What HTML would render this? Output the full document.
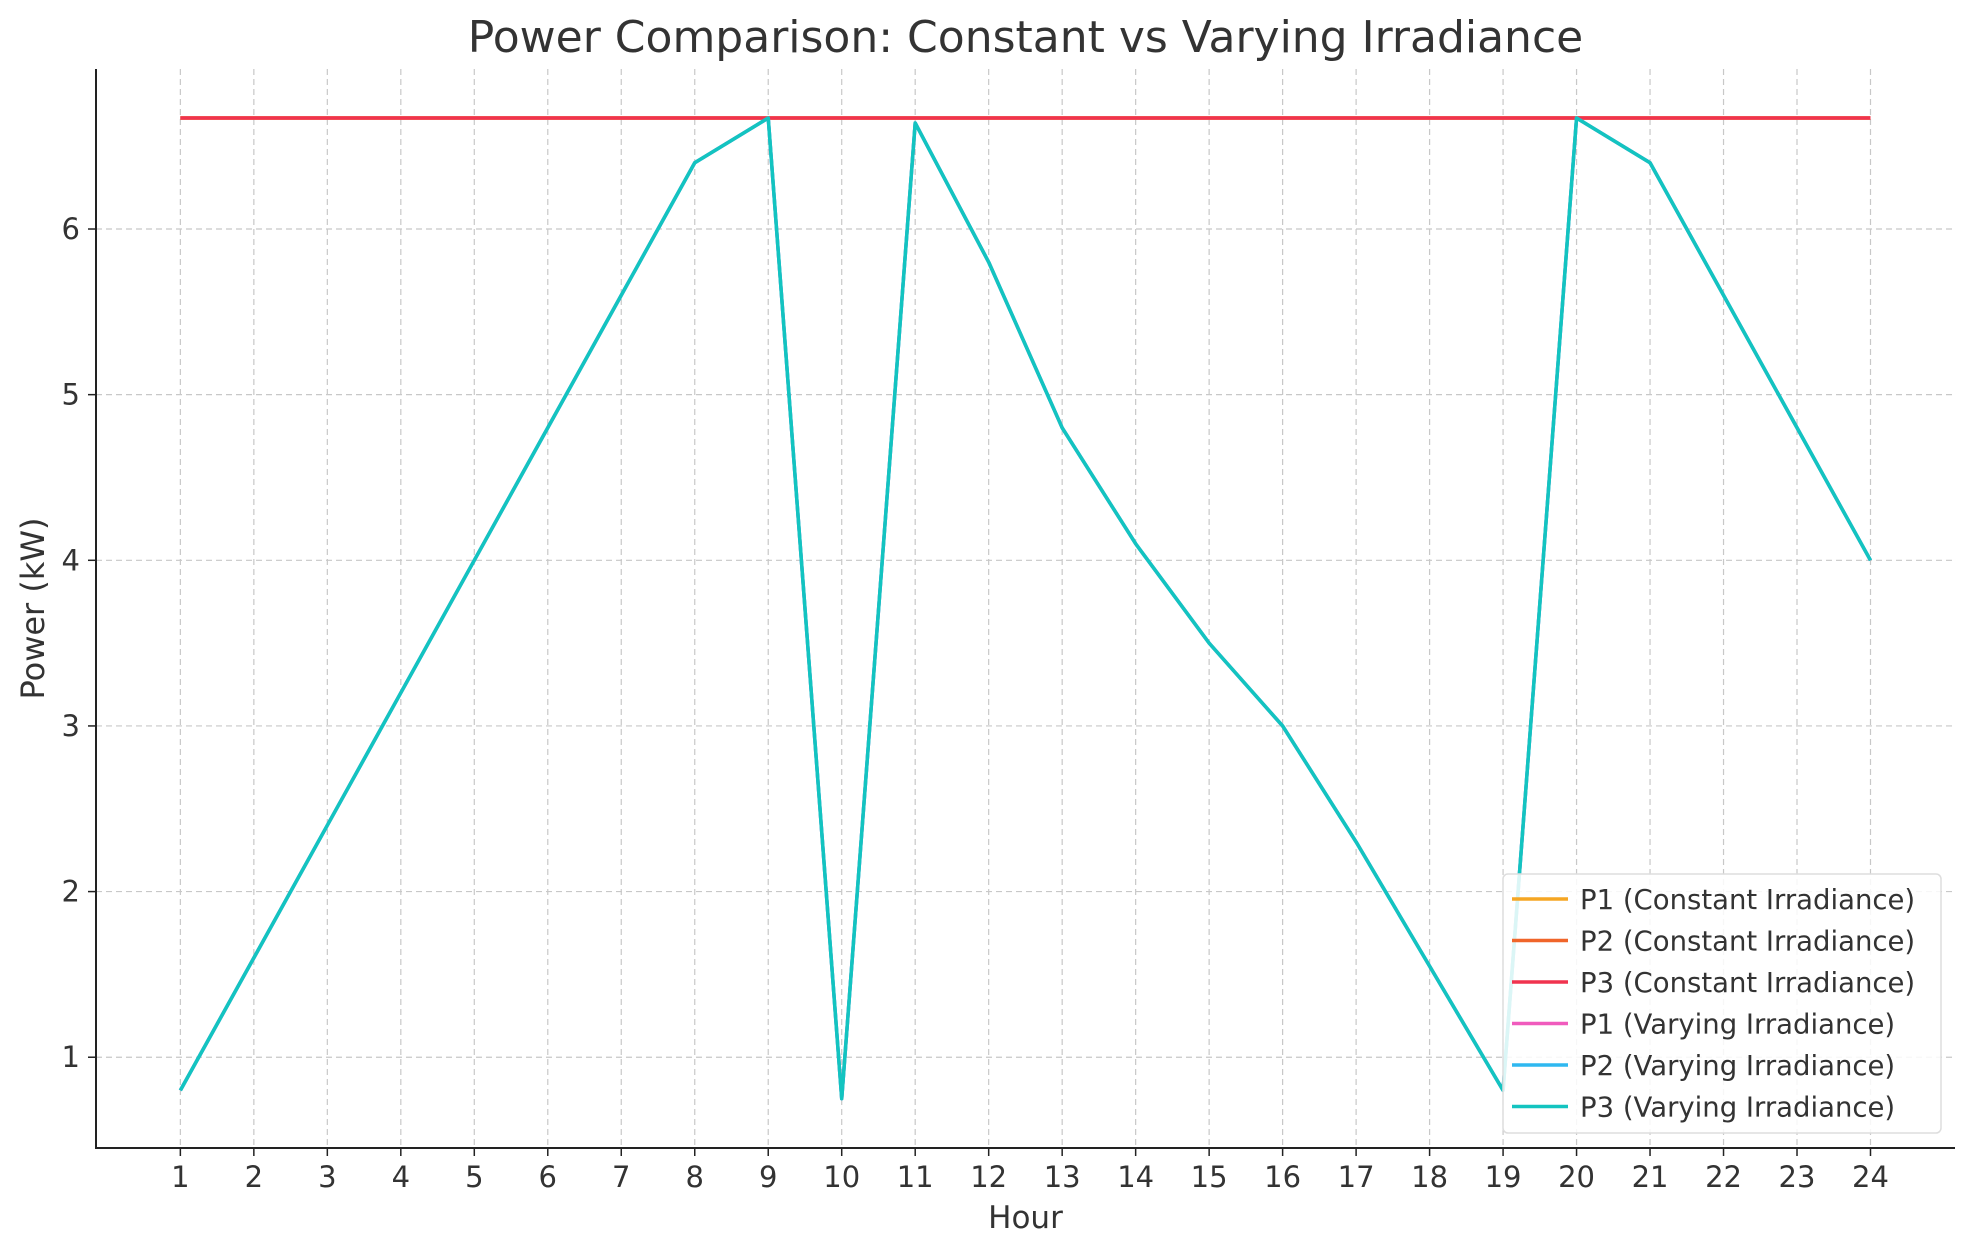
<!DOCTYPE html>
<html><head><meta charset="utf-8"><style>
body{margin:0;background:#fff;}
svg text{font-family:"DejaVu Sans","Liberation Sans",sans-serif;fill:#333;}
</style></head><body>
<svg id="chart" width="1975" height="1255" xmlns="http://www.w3.org/2000/svg"></svg>
<script>
const hours=[1,2,3,4,5,6,7,8,9,10,11,12,13,14,15,16,17,18,19,20,21,22,23,24];
const constantP=[6.67,6.67,6.67,6.67,6.67,6.67,6.67,6.67,6.67,6.67,6.67,6.67,6.67,6.67,6.67,6.67,6.67,6.67,6.67,6.67,6.67,6.67,6.67,6.67];
const varyingP=[0.8,1.6,2.4,3.2,4.0,4.8,5.6,6.4,6.67,0.75,6.64,5.8,4.8,4.1,3.5,3.0,2.3,1.55,0.8,6.67,6.4,5.6,4.8,4.0];
const yTicks=[1,2,3,4,5,6];
const seriesNames=["P1 (Constant Irradiance)","P2 (Constant Irradiance)","P3 (Constant Irradiance)","P1 (Varying Irradiance)","P2 (Varying Irradiance)","P3 (Varying Irradiance)"];
const seriesColors=["#f5a623","#f0652a","#f0334f","#f05bbd","#2fb8f0","#13c4c0"];

const svg=document.getElementById('chart');
const NS='http://www.w3.org/2000/svg';
const L=96,R=1955,T=69,B=1148;
const xMin=-0.148,xMax=25.15,yMin=0.452,yMax=6.966;
const X=v=>L+(v-xMin)/(xMax-xMin)*(R-L);
const Y=v=>B-(v-yMin)/(yMax-yMin)*(B-T);
function el(tag,attrs,parent){const e=document.createElementNS(NS,tag);for(const k in attrs)e.setAttribute(k,attrs[k]);(parent||svg).appendChild(e);return e;}

let t=el('text',{x:(L+R)/2,y:52,'text-anchor':'middle','font-size':44});
t.textContent='Power Comparison: Constant vs Varying Irradiance';



hours.forEach(h=>{
  const g=el('line',{x1:X(h),x2:X(h),y1:T,y2:B,stroke:'#c8c8c8','stroke-dasharray':'6,4','stroke-width':1.2});
  
  
  el('line',{x1:X(h),x2:X(h),y1:B,y2:B+8,stroke:'#222','stroke-width':1.5});
  const tx=el('text',{x:X(h),y:B+39,'text-anchor':'middle','font-size':29});
  tx.textContent=h;
  
  
});
yTicks.forEach(v=>{
  const g=el('line',{x1:L,x2:R,y1:Y(v),y2:Y(v),stroke:'#c8c8c8','stroke-dasharray':'6,4','stroke-width':1.2});
  
  
  el('line',{x1:L-8,x2:L,y1:Y(v),y2:Y(v),stroke:'#222','stroke-width':1.5});
  const tx=el('text',{x:L-16,y:Y(v)+10,'text-anchor':'end','font-size':29});
  tx.textContent=v;
  
  
});
const ax=el('path',{d:`M${L},${T}V${B}H${R}`,fill:'none',stroke:'#222','stroke-width':2});



t=el('text',{x:(L+R)/2,y:1228,'text-anchor':'middle','font-size':31});
t.textContent='Hour';


t=el('text',{x:0,y:0,'text-anchor':'middle','font-size':32,transform:`translate(44,${(T+B)/2}) rotate(-90)`});
t.textContent='Power (kW)';



function line(vals,color,name){
  const p=el('polyline',{points:hours.map((h,i)=>X(h)+','+Y(vals[i])).join(' '),fill:'none',stroke:color,'stroke-width':3.5,'stroke-linejoin':'round'});
  
  
}
line(constantP,seriesColors[0],'p1-constant-line');
line(constantP,seriesColors[1],'p2-constant-line');
line(constantP,seriesColors[2],'p3-constant-line');
line(varyingP,seriesColors[3],'p1-varying-line');
line(varyingP,seriesColors[4],'p2-varying-line');
line(varyingP,seriesColors[5],'p3-varying-line');

const lg=el('g',{});


el('rect',{x:1503,y:874,width:438,height:259,rx:5,fill:'rgba(255,255,255,0.85)',stroke:'#ddd','stroke-width':1.5},lg);
seriesNames.forEach((n,i)=>{
  const y=899+i*41.5;
  const it=el('g',{},lg);
  
  
  el('line',{x1:1512,x2:1568,y1:y,y2:y,stroke:seriesColors[i],'stroke-width':3.5},it);
  const tx=el('text',{x:1580,y:y+10,'font-size':27.5},it);
  tx.textContent=n;
});
</script>
</body></html>
